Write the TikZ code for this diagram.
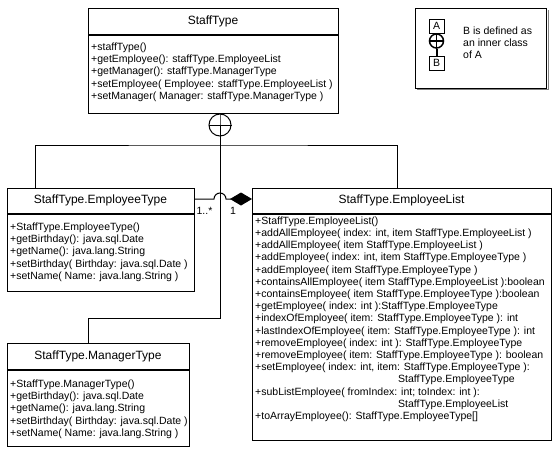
\documentclass[tikz,border=0pt]{standalone}
\usepackage{fontspec}
\setmainfont{Liberation Sans}
\usetikzlibrary{arrows.meta}
\begin{document}
\begin{tikzpicture}[x=1pt,y=-1pt,
  box/.style={draw,line width=1pt,inner sep=0,anchor=north west},
  title/.style={font=\fontsize{12}{14}\selectfont,inner sep=0},
  mult/.style={font=\fontsize{10.5}{12.3}\selectfont,inner sep=0},
  body/.style={font=\fontsize{10.5}{12.3}\selectfont,inner sep=0,align=left,anchor=north west},
  sepline/.style={line width=2pt},
  conn/.style={line width=1pt},
  smallbox/.style={draw,line width=1pt,inner sep=0,minimum width=15pt,minimum height=14pt,font=\fontsize{10.5}{12}\selectfont}]
\useasboundingbox (0,0) rectangle (558,458);

% StaffType
\node[box,minimum width=250pt,minimum height=105pt] (st) at (88,8) {};
\draw[sepline] (st.west |- 0,35) -- (st.east |- 0,35);
\node[title] (stt) at (213,21.5) {StaffType};
\node[body] (stm) at (91,41.4) {\strut+staffType()\\
+getEmployee(): staffType.EmployeeList\\
+getManager(): staffType.ManagerType\\
+setEmployee( Employee: staffType.EmployeeList )\\
+setManager( Manager: staffType.ManagerType )};

% EmployeeType
\node[box,minimum width=187pt,minimum height=103pt] (et) at (7,188) {};
\draw[sepline] (et.west |- 0,214) -- (et.east |- 0,214);
\node[title] (ett) at (100.5,200) {StaffType.EmployeeType};
\node[body] (etm) at (10,221.4) {\strut+StaffType.EmployeeType()\\
+getBirthday(): java.sql.Date\\
+getName(): java.lang.String\\
+setBirthday( Birthday: java.sql.Date )\\
+setName( Name: java.lang.String )};

% EmployeeList
\node[box,minimum width=299pt,minimum height=252pt] (el) at (252,188) {};
\draw[sepline] (el.west |- 0,214) -- (el.east |- 0,214);
\node[title] (elt) at (401.5,200) {StaffType.EmployeeList};
\node[body,font=\fontsize{10.5}{12.2}\selectfont] (elm) at (255,215.6) {\strut+StaffType.EmployeeList()\\
+addAllEmployee( index: int, item StaffType.EmployeeList )\\
+addAllEmployee( item StaffType.EmployeeList )\\
+addEmployee( index: int, item StaffType.EmployeeType )\\
+addEmployee( item StaffType.EmployeeType )\\
+containsAllEmployee( item StaffType.EmployeeList ):boolean\\
+containsEmployee( item StaffType.EmployeeType ):boolean\\
+getEmployee( index: int ):StaffType.EmployeeType\\
+indexOfEmployee( item: StaffType.EmployeeType ): int\\
+lastIndexOfEmployee( item: StaffType.EmployeeType ): int\\
+removeEmployee( index: int ): StaffType.EmployeeType\\
+removeEmployee( item: StaffType.EmployeeType ): boolean\\
+setEmployee( index: int, item: StaffType.EmployeeType ):\\
\hspace*{143pt}StaffType.EmployeeType\\
+subListEmployee( fromIndex: int; toIndex: int ):\\
\hspace*{143pt}StaffType.EmployeeList\\
+toArrayEmployee(): StaffType.EmployeeType[]};

% ManagerType
\node[box,minimum width=182pt,minimum height=103pt] (mt) at (7,343) {};
\draw[sepline] (mt.west |- 0,370) -- (mt.east |- 0,370);
\node[title] (mtt) at (98,356.5) {StaffType.ManagerType};
\node[body] (mtm) at (10,378.4) {\strut+StaffType.ManagerType()\\
+getBirthday(): java.sql.Date\\
+getName(): java.lang.String\\
+setBirthday( Birthday: java.sql.Date )\\
+setName( Name: java.lang.String )};

% inner class connector
\node[draw,circle,minimum size=22pt,inner sep=0,line width=1pt] (ic) at (220,125) {};
\draw[conn] (ic.north |- st.south) -- (ic.north) -- (ic.south);
\draw[conn] (ic.west) -- (ic.east);
\coordinate (j1) at (220,145);
\coordinate (j2) at (220,318);
\draw[conn] (ic.south) -- (j2) -| ([xshift=-10pt]mt.north);
\draw[conn] ([xshift=28pt]et.north west) |- (j1) -| ([xshift=145pt]el.north west);

% association
\draw[conn,-{Diamond[length=22pt,width=13pt,fill=black]}] (et.east |- 0,199) -- (214,199)
  arc[start angle=180,end angle=0,radius=6pt] -- (el.west |- 0,199);
\node[mult] (m1) at (204.5,211) {1..*};
\node[mult] (m2) at (233,211) {1};

% legend
\draw[gray,line width=1pt] (417,89) -- (548,89) -- (548,10);
\node[box,minimum width=131pt,minimum height=80pt] (lg) at (415,8) {};
\node[smallbox] (la) at (436.5,26) {A};
\node[draw,circle,minimum size=14pt,inner sep=0,line width=1.5pt] (lc) at (436.5,41) {};
\draw[line width=1.5pt] (la.south) -- (lc.north) -- (lc.south);
\draw[line width=1.5pt] (lc.west) -- (lc.east);
\node[smallbox] (lb) at (436.5,63) {B};
\draw[line width=2pt] (lc.south) -- (lb.north);
\node[body,font=\fontsize{10.5}{11.8}\selectfont] (lt) at (463,26.4) {\strut B is defined as\\an inner class\\of A};
\end{tikzpicture}
\end{document}
